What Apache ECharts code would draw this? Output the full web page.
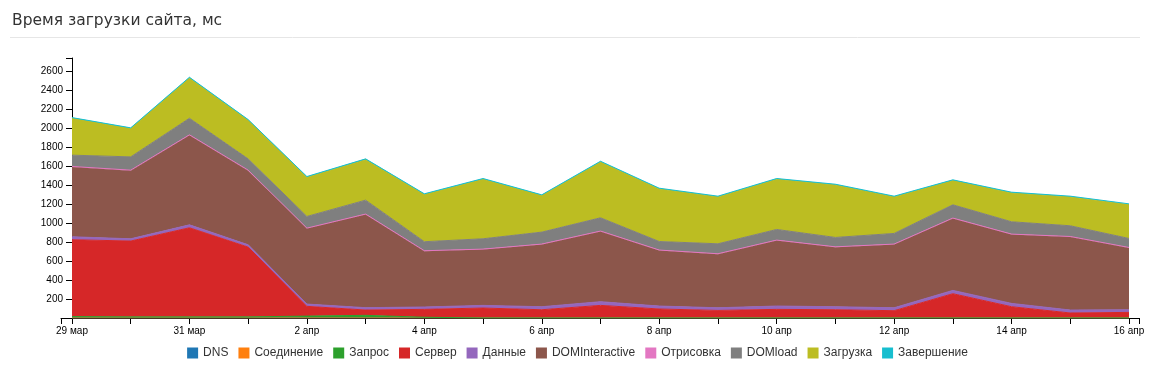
<!DOCTYPE html>
<html>
<head>
<meta charset="utf-8">
<script src="https://cdn.jsdelivr.net/npm/echarts@6/dist/echarts.min.js"></script>
<style>
html,body{margin:0;padding:0;background:#fff;}
#chart{width:1155px;height:367px;}
</style>
</head>
<body>
<div id="chart"></div>
<script>
const categories = ['29 мар','30 мар','31 мар','1 апр','2 апр','3 апр','4 апр','5 апр','6 апр','7 апр','8 апр','9 апр','10 апр','11 апр','12 апр','13 апр','14 апр','15 апр','16 апр'];
const seriesNames = ['DNS','Соединение','Запрос','Сервер','Данные','DOMInteractive','Отрисовка','DOMload','Загрузка','Завершение'];
const dns            = [0,0,0,0,0,0,0,0,0,0,0,0,0,0,0,0,0,0,0];
const connection     = [0,0,0,0,0,0,0,0,0,0,0,0,0,0,0,0,0,0,0];
const request        = [15,12,12,12,20,28,8,0,0,0,0,0,0,0,0,0,0,0,0];
const server         = [810,799,939,735,103,56,83,105,87,133,95,80,91,87,77,256,119,53,59];
const dataTransfer   = [31,24,31,25,24,25,25,28,32,39,31,28,35,32,31,35,35,31,28];
const domInteractive = [736,718,943,781,795,981,588,588,655,739,585,564,690,626,666,757,725,770,651];
const rendering      = [5,5,5,5,5,5,5,5,5,5,5,5,5,5,5,5,5,5,5];
const domLoad        = [119,140,175,119,123,147,95,109,126,140,90,105,112,99,112,140,130,113,95];
const loading        = [388,298,424,406,413,427,497,627,385,588,554,494,529,553,385,255,304,304,357];
const completion     = [8,8,8,8,8,8,8,8,8,8,8,8,8,8,8,8,8,8,8];
const yTickStep = 200;
const yMax = 2740;

const seriesValues = [dns, connection, request, server, dataTransfer, domInteractive, rendering, domLoad, loading, completion];
const colors = ['#1f77b4','#ff7f0e','#2ca02c','#d62728','#9467bd','#8c564b','#e377c2','#7f7f7f','#bcbd22','#17becf'];

const chart = echarts.init(document.getElementById('chart'));
const axisFont = 'Arial, "Liberation Sans", sans-serif';
chart.setOption({
  animation: false,
  color: colors,
  title: {
    text: 'Время загрузки сайта, мс',
    left: 7, top: 8,
    textStyle: {fontFamily: '"DejaVu Sans", sans-serif', fontSize: 15.5, fontWeight: 'normal', color: '#333'}
  },
  graphic: [{
    type: 'line', shape: {x1: 10, y1: 37.5, x2: 1140, y2: 37.5},
    style: {stroke: '#e6e6e6', lineWidth: 1}, silent: true
  }],
  legend: {
    data: seriesNames,
    left: 'center', top: 342,
    icon: 'rect', itemWidth: 11, itemHeight: 11, itemGap: 10,
    textStyle: {fontFamily: axisFont, fontSize: 12, color: '#333'}
  },
  grid: [
    {left: 72, right: 26, top: 58, bottom: 49},
    {left: 61, right: 16, top: 58, bottom: 49}
  ],
  xAxis: [{
    type: 'category', data: categories, boundaryGap: false, gridIndex: 0,
    axisLine: {lineStyle: {color: '#000', width: 1}},
    axisTick: {show: true, interval: 0, length: 6, lineStyle: {color: '#000'}},
    axisLabel: {interval: 1, color: '#000', fontSize: 10, fontFamily: axisFont, margin: 8},
    splitLine: {show: false}
  }, {
    type: 'value', gridIndex: 1, min: 0, max: 1, interval: 1,
    axisLine: {show: true, lineStyle: {color: '#000', width: 1}},
    axisTick: {show: true, length: 6, lineStyle: {color: '#000'}},
    axisLabel: {show: false}, splitLine: {show: false}
  }],
  yAxis: [{
    type: 'value', gridIndex: 0, min: 0, max: yMax, interval: yTickStep,
    axisLine: {show: true, lineStyle: {color: '#000', width: 1}},
    axisTick: {show: true, length: 6, lineStyle: {color: '#000'}},
    axisLabel: {color: '#000', fontSize: 10, fontFamily: axisFont, margin: 9,
      formatter: v => (v > 0 && v % yTickStep === 0) ? String(v) : ''},
    splitLine: {show: false}
  }, {
    type: 'value', gridIndex: 1, min: 0, max: 1, show: false
  }],
  series: seriesNames.map((name, i) => ({
    name: name, type: 'line', stack: 'total', xAxisIndex: 0, yAxisIndex: 0,
    data: seriesValues[i], showSymbol: false, symbol: 'none',
    lineStyle: {width: 1, color: colors[i]},
    areaStyle: {color: colors[i], opacity: 1},
    itemStyle: {color: colors[i]}
  }))
});
</script>
</body>
</html>
